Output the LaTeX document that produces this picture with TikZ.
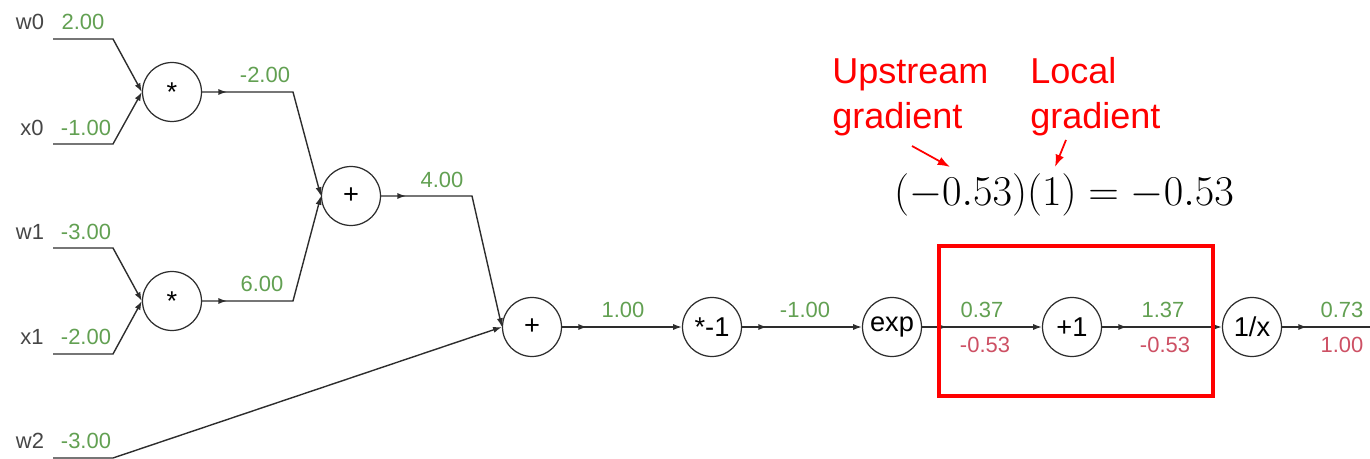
\documentclass[tikz,border=0pt]{standalone}
\usepackage{fontspec}
\setmainfont{Liberation Sans}
\usepackage{xcolor}
\definecolor{valgreen}{RGB}{98,160,82}
\definecolor{gradred}{RGB}{205,80,100}
\definecolor{wiregray}{RGB}{45,45,45}
\definecolor{namegray}{RGB}{70,70,70}
\usetikzlibrary{arrows.meta, positioning, decorations.markings}

\tikzset{
  gate/.style={circle, draw=wiregray, line width=0.7pt, minimum size=1.18cm, inner sep=0pt, font=\fontsize{15.5}{17}\selectfont},
  wire/.style={draw=wiregray, line width=0.8pt},
  tipend/.style={-{Latex[length=5pt,width=3.5pt]}},
  midtip/.style={postaction={decorate}, decoration={markings, mark=at position 0.5cm with {\arrow{Latex[length=5pt,width=3.5pt]}}}},
  inname/.style={text=namegray, inner sep=0pt, font=\fontsize{12.5}{14}\selectfont},
  fwd/.style={text=valgreen, inner sep=0pt, font=\fontsize{12.5}{14}\selectfont},
  bwd/.style={text=gradred, inner sep=0pt, font=\fontsize{12.5}{14}\selectfont},
  note/.style={text=red, align=left, anchor=west, inner sep=0pt, font=\fontsize{20.5}{25.6}\selectfont},
  notearrow/.style={draw=red, line width=1pt, -{Latex[length=7pt,width=5pt]}}
}

\begin{document}
\begin{tikzpicture}[x=0.02cm, y=-0.02cm]
  \useasboundingbox (0,0) rectangle (1370,459);

  % gates
  \node[gate] (mul0) at (172,92) {*};
  \node[gate] (mul1) at (172,301) {*};
  \node[gate] (add0) at (351,196) {+};
  \node[gate] (add1) at (532,327) {+};
  \node[gate] (neg) at (712,327) {*-1};
  \node[gate] (exp) at (892,327) {exp};
  \node[gate] (plus1) at (1072,327) {+1};
  \node[gate] (recip) at (1252,327) {1/x};

  % inputs
  \node[inname] (w0) at (30,22) {w0};
  \node[inname] (x0) at (32,128) {x0};
  \node[inname] (w1) at (30,232) {w1};
  \node[inname] (x1) at (32,337) {x1};
  \node[inname] (w2) at (30,441) {w2};
  \coordinate (w0s) at (53,39);  \coordinate (w0b) at (113,39);
  \coordinate (x0s) at (53,144); \coordinate (x0b) at (113,144);
  \coordinate (w1s) at (53,248); \coordinate (w1b) at (113,248);
  \coordinate (x1s) at (53,354); \coordinate (x1b) at (113,354);
  \coordinate (w2s) at (53,458); \coordinate (w2b) at (113,458);

  \draw[wire, tipend] (w0s) -- (w0b) -- (mul0.west);
  \draw[wire, tipend] (x0s) -- (x0b) -- (mul0.west);
  \draw[wire, tipend] (w1s) -- (w1b) -- (mul1.west);
  \draw[wire, tipend] (x1s) -- (x1b) -- (mul1.west);
  \draw[wire, tipend] (w2s) -- (w2b) -- (add1.west);

  % forward wires
  \coordinate (m0b) at (293,92);
  \coordinate (m1b) at (293,301);
  \coordinate (a0b) at (472,196);
  \coordinate (out) at (1370,327);
  \draw[wire, midtip, tipend] (mul0.east) -- (m0b) -- (add0.west);
  \draw[wire, midtip, tipend] (mul1.east) -- (m1b) -- (add0.west);
  \draw[wire, midtip, tipend] (add0.east) -- (a0b) -- (add1.west);
  \draw[wire, midtip, tipend] (add1) -- (neg);
  \draw[wire, midtip, tipend] (neg) -- (exp);
  \draw[wire, midtip, tipend] (exp) -- (plus1);
  \draw[wire, midtip, tipend] (plus1) -- (recip);
  \draw[wire, midtip] (recip) -- (out);

  % values
  \node[fwd] (v_w0) at (83,22) {2.00};
  \node[fwd] (v_x0) at (86,128) {-1.00};
  \node[fwd] (v_w1) at (86,232) {-3.00};
  \node[fwd] (v_x1) at (86,337) {-2.00};
  \node[fwd] (v_w2) at (86,441) {-3.00};
  \node[fwd] (v_m0) at (265,75) {-2.00};
  \node[fwd] (v_m1) at (262,284) {6.00};
  \node[fwd] (v_a0) at (442,180) {4.00};
  \node[fwd] (v_a1) at (623,310) {1.00};
  \node[fwd] (v_neg) at (805,310) {-1.00};
  \node[fwd] (v_exp) at (982,310) {0.37};
  \node[bwd] (g_exp) at (985,345) {-0.53};
  \node[fwd] (v_p1) at (1163,310) {1.37};
  \node[bwd] (g_p1) at (1165,345) {-0.53};
  \node[fwd] (v_rec) at (1342,310) {0.73};
  \node[bwd] (g_rec) at (1342,345) {1.00};

  % highlight and chain rule
  \draw[red, line width=2pt] (939,246) rectangle (1213,396);
  \node[scale=1.165] (eq) at (1064,195) {\fontsize{20.74}{25}\selectfont $(-0.53)(1) = -0.53$};
  \node[note] (upstream) at (832,97) {Upstream\\gradient};
  \node[note] (local) at (1030,97) {Local\\gradient};
  \coordinate (upTail) at (912,146);
  \coordinate (upHead) at (950,167);
  \coordinate (locTail) at (1066,140);
  \coordinate (locHead) at (1055,167);
  \draw[notearrow] (upTail) -- (upHead);
  \draw[notearrow] (locTail) -- (locHead);
\end{tikzpicture}
\end{document}
